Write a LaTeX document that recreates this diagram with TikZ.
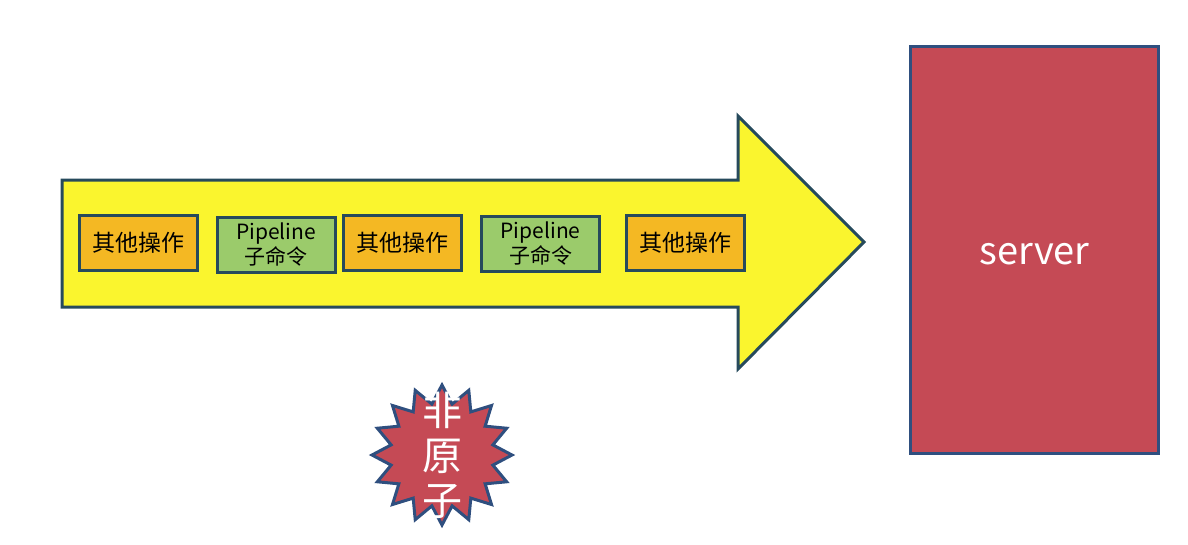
\documentclass[tikz,border=0pt]{standalone}
\usepackage{fontspec}
\setmainfont{Noto Sans CJK SC}
\usetikzlibrary{shapes.geometric}
\definecolor{arrowyellow}{HTML}{FAF52E}
\definecolor{opsorange}{HTML}{F4B823}
\definecolor{pipegreen}{HTML}{9BCB6B}
\definecolor{serverred}{HTML}{C54A55}
\definecolor{edgeblue}{HTML}{2F4F7F}
\definecolor{edgeteal}{HTML}{264A5C}

\begin{document}
\begin{tikzpicture}
[x=1pt,y=-1pt,%
  opbox/.style={draw=edgeteal,line width=3pt,fill=opsorange,inner sep=0pt,%
    minimum width=118pt,minimum height=55pt,font=\fontsize{23}{26}\selectfont},%
  pipebox/.style={opbox,fill=pipegreen,align=center,font=\fontsize{21}{25}\selectfont},%
  redshape/.style={draw=edgeblue,line width=3pt,fill=serverred,text=white}]
\useasboundingbox (0,0) rectangle (1188,544);
\draw[draw=edgeteal,line width=3pt,fill=arrowyellow,line join=miter]
  (62,180) -- (738,180) -- (738,116) -- (864,242)
  -- (738,369) -- (738,307) -- (62,307) -- cycle;
\node[opbox] (op1) at (138.5,243) {其他操作};
\node[pipebox] (pipe1) at (276,244.5) {Pipeline\\子命令};
\node[opbox] (op2) at (402,243) {其他操作};
\node[pipebox] (pipe2) at (540.5,243.5) {Pipeline\\子命令};
\node[opbox] (op3) at (685,243) {其他操作};
\node[redshape,minimum width=248pt,minimum height=407pt,%
  font=\fontsize{38}{44}\selectfont] (server) at (1034.5,250) {};
\node[text=white,font=\fontsize{38}{44}\selectfont] (servername)
  at ([yshift=-4pt]server.center) {server};
\node[redshape,star,star points=16,star point ratio=1.35,%
  minimum size=140pt,inner sep=0pt] (burst) at (442,455) {};
\node[text=white,align=center,font=\fontsize{40}{45}\selectfont]
  (nonatomic) at (burst) {非\\原\\子};
\end{tikzpicture}
\end{document}
